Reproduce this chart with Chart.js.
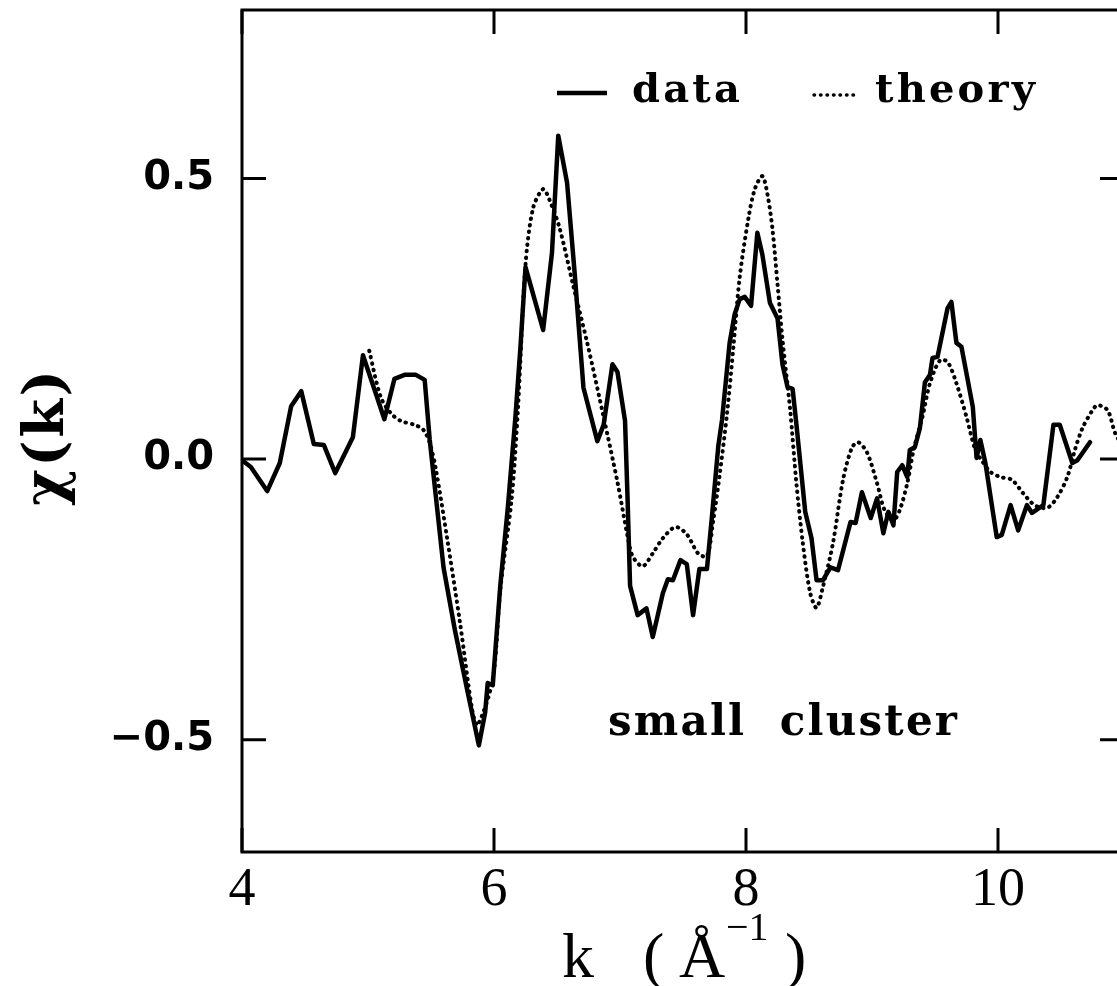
<!DOCTYPE html>
<html>
<head>
<meta charset="utf-8">
<script src="https://cdn.jsdelivr.net/npm/chart.js@4/dist/chart.umd.min.js"></script>
<style>
html,body{margin:0;padding:0;background:#fff;overflow:hidden;width:1117px;height:986px;}
canvas{display:block;}
</style>
</head>
<body>
<canvas id="c" width="1140" height="986"></canvas>
<script>
// measured data (solid line)
const kData = [4.00,4.07,4.20,4.30,4.39,4.47,4.57,4.65,4.74,4.88,4.96,5.06,5.13,5.21,5.29,5.38,5.45,5.49,5.60,5.69,5.79,5.88,5.93,5.95,5.99,6.05,6.11,6.17,6.21,6.25,6.39,6.46,6.51,6.58,6.64,6.71,6.82,6.87,6.94,6.98,7.04,7.06,7.08,7.14,7.21,7.26,7.34,7.38,7.42,7.48,7.53,7.58,7.63,7.69,7.73,7.78,7.81,7.87,7.91,7.95,7.99,8.04,8.09,8.13,8.19,8.25,8.29,8.33,8.37,8.40,8.47,8.52,8.56,8.61,8.67,8.73,8.83,8.87,8.92,8.99,9.04,9.09,9.13,9.17,9.20,9.24,9.28,9.30,9.34,9.38,9.42,9.46,9.48,9.52,9.60,9.63,9.67,9.71,9.80,9.83,9.86,9.90,9.99,10.03,10.10,10.16,10.23,10.27,10.36,10.44,10.49,10.59,10.63,10.73];
const chiData = [-0.002,-0.014,-0.057,-0.007,0.094,0.121,0.027,0.025,-0.025,0.039,0.185,0.118,0.071,0.143,0.150,0.150,0.141,0.034,-0.194,-0.305,-0.414,-0.510,-0.451,-0.399,-0.403,-0.225,-0.086,0.075,0.200,0.342,0.230,0.367,0.576,0.492,0.332,0.127,0.032,0.061,0.169,0.155,0.068,-0.070,-0.226,-0.278,-0.266,-0.317,-0.239,-0.214,-0.216,-0.180,-0.187,-0.278,-0.196,-0.196,-0.102,0.023,0.070,0.207,0.258,0.285,0.289,0.273,0.403,0.364,0.278,0.251,0.168,0.128,0.125,0.062,-0.094,-0.141,-0.216,-0.216,-0.193,-0.198,-0.112,-0.114,-0.059,-0.105,-0.070,-0.132,-0.094,-0.118,-0.023,-0.011,-0.032,0.016,0.021,0.055,0.137,0.150,0.180,0.182,0.269,0.280,0.207,0.200,0.093,0.002,0.034,-0.007,-0.139,-0.135,-0.082,-0.127,-0.082,-0.096,-0.082,0.061,0.061,-0.007,-0.002,0.030];
// theory (dotted line)
const kTheory = [5.01,5.10,5.18,5.26,5.37,5.44,5.49,5.54,5.63,5.73,5.83,5.87,5.99,6.05,6.14,6.19,6.25,6.31,6.39,6.44,6.52,6.63,6.74,6.87,6.98,7.06,7.10,7.18,7.26,7.34,7.44,7.53,7.62,7.69,7.74,7.79,7.85,7.90,7.95,8.02,8.07,8.13,8.17,8.21,8.25,8.29,8.35,8.40,8.45,8.51,8.56,8.61,8.69,8.77,8.84,8.89,8.96,9.04,9.10,9.17,9.22,9.28,9.33,9.40,9.46,9.54,9.60,9.67,9.75,9.82,9.87,9.94,10.02,10.11,10.20,10.29,10.39,10.47,10.55,10.61,10.67,10.75,10.79,10.87,10.93,11.00];
const chiTheory = [0.193,0.111,0.082,0.068,0.061,0.052,0.029,-0.020,-0.144,-0.291,-0.451,-0.474,-0.392,-0.232,-0.071,0.089,0.346,0.447,0.481,0.462,0.412,0.308,0.207,0.075,-0.041,-0.137,-0.173,-0.191,-0.168,-0.141,-0.121,-0.134,-0.168,-0.173,-0.109,-0.030,0.082,0.200,0.324,0.430,0.481,0.504,0.472,0.410,0.312,0.212,0.089,-0.043,-0.148,-0.239,-0.265,-0.228,-0.150,-0.037,0.020,0.030,0.012,-0.043,-0.091,-0.109,-0.091,-0.043,0.016,0.075,0.135,0.176,0.173,0.135,0.075,0.016,-0.002,-0.023,-0.032,-0.037,-0.061,-0.082,-0.087,-0.068,-0.032,0.016,0.055,0.087,0.096,0.087,0.046,0.020];

const xTicks = [4, 6, 8, 10];
const xTickLabels = ['4', '6', '8', '10'];
const yTicks = [-0.5, 0, 0.5];
const yTickLabels = ['\u22120.5', '0.0', '0.5'];
const seriesLabels = ['data', 'theory'];
const annotationText = 'small  cluster';
const yTitle = '\u03c7(k)';

function fitText(ctx, text, x, y, width, font) {
  ctx.font = font;
  ctx.letterSpacing = '0px';
  const w = ctx.measureText(text).width;
  const ls = text.length > 1 ? (width - w) / (text.length - 1) : 0;
  ctx.letterSpacing = ls + 'px';
  ctx.textAlign = 'left';
  ctx.fillText(text, x, y);
  ctx.letterSpacing = '0px';
}

const decor = {
  id: 'decor',
  afterDraw(chart) {
    const ctx = chart.ctx;
    const a = chart.chartArea;
    const xs = chart.scales.x, ys = chart.scales.y;
    ctx.save();
    ctx.strokeStyle = '#000';
    ctx.fillStyle = '#000';
    ctx.lineWidth = 3;
    ctx.lineCap = 'butt';
    ctx.strokeRect(a.left, a.top, a.right - a.left, a.bottom - a.top);
    const TL = 24;
    ctx.beginPath();
    xTicks.forEach(v => {
      const px = xs.getPixelForValue(v);
      ctx.moveTo(px, a.bottom); ctx.lineTo(px, a.bottom - TL);
      ctx.moveTo(px, a.top); ctx.lineTo(px, a.top + TL);
    });
    yTicks.forEach(v => {
      const py = ys.getPixelForValue(v);
      ctx.moveTo(a.left, py); ctx.lineTo(a.left + TL, py);
      ctx.moveTo(a.right, py); ctx.lineTo(a.right - TL, py);
    });
    ctx.stroke();

    // legend
    ctx.textBaseline = 'alphabetic';
    ctx.lineWidth = 4.5;
    ctx.beginPath(); ctx.moveTo(557, 93); ctx.lineTo(607, 93); ctx.stroke();
    fitText(ctx, chart.data.datasets[0].label, 632, 102, 108, 'bold 40px "DejaVu Serif"');
    ctx.lineWidth = 3.5; ctx.lineCap = 'round'; ctx.setLineDash([0.5, 6]);
    ctx.beginPath(); ctx.moveTo(814, 95); ctx.lineTo(858, 95); ctx.stroke();
    ctx.setLineDash([]); ctx.lineCap = 'butt';
    fitText(ctx, chart.data.datasets[1].label, 875, 102, 160, 'bold 40px "DejaVu Serif"');

    // annotation
    fitText(ctx, annotationText, 608, 735, 349, 'bold 42px "DejaVu Serif"');

    // x title: k (Å^-1)
    ctx.font = '64px "Liberation Serif"';
    ctx.fillText('k', 562, 977);
    ctx.fillText('(', 643, 977);
    ctx.fillText('\u00c5', 679, 977);
    ctx.font = '40px "Liberation Serif"';
    ctx.fillText('\u22121', 726, 940);
    ctx.font = '64px "Liberation Serif"';
    ctx.fillText(')', 785, 977);

    // y title
    ctx.save();
    ctx.translate(48, 438);
    ctx.rotate(-Math.PI / 2);
    ctx.textBaseline = 'middle';
    fitText(ctx, yTitle, -68, 0, 136, 'bold 56px "DejaVu Serif"');
    ctx.restore();
    ctx.restore();
  }
};

new Chart(document.getElementById('c'), {
  type: 'line',
  data: {
    datasets: [
      {
        label: seriesLabels[0],
        data: kData.map((k, i) => ({ x: k, y: chiData[i] })),
        borderColor: '#000', borderWidth: 4.5, pointRadius: 0,
        tension: 0, borderJoinStyle: 'round', borderCapStyle: 'round', fill: false
      },
      {
        label: seriesLabels[1],
        data: kTheory.map((k, i) => ({ x: k, y: chiTheory[i] })),
        borderColor: '#000', borderWidth: 4, pointRadius: 0,
        tension: 0.3, borderDash: [0.5, 6], borderCapStyle: 'round', fill: false
      }
    ]
  },
  options: {
    responsive: false,
    animation: false,
    devicePixelRatio: 1,
    layout: { padding: { top: 10, right: 16, left: 0, bottom: 0 } },
    plugins: { legend: { display: false }, tooltip: { enabled: false }, title: { display: false } },
    scales: {
      x: {
        type: 'linear', min: 4, max: 11,
        grid: { display: false }, border: { display: false },
        afterBuildTicks: s => { s.ticks = xTicks.map(v => ({ value: v })); },
        afterFit: s => { s.height = 134; s.paddingLeft = 0; s.paddingRight = 0; },
        ticks: {
          autoSkip: false, maxRotation: 0, minRotation: 0, padding: -2, color: '#000',
          font: { family: 'Liberation Serif', size: 54 },
          callback: (v, i) => xTickLabels[i]
        }
      },
      y: {
        type: 'linear', min: -0.7, max: 0.8,
        grid: { display: false }, border: { display: false },
        afterBuildTicks: s => { s.ticks = yTicks.map(v => ({ value: v })); },
        afterFit: s => { s.width = 242; s.paddingTop = 0; s.paddingBottom = 0; },
        ticks: {
          autoSkip: false, padding: 20, color: '#000',
          font: { family: 'DejaVu Sans', size: 40, weight: 'bold' },
          callback: (v, i) => yTickLabels[i]
        }
      }
    }
  },
  plugins: [decor]
});
</script>
</body>
</html>
